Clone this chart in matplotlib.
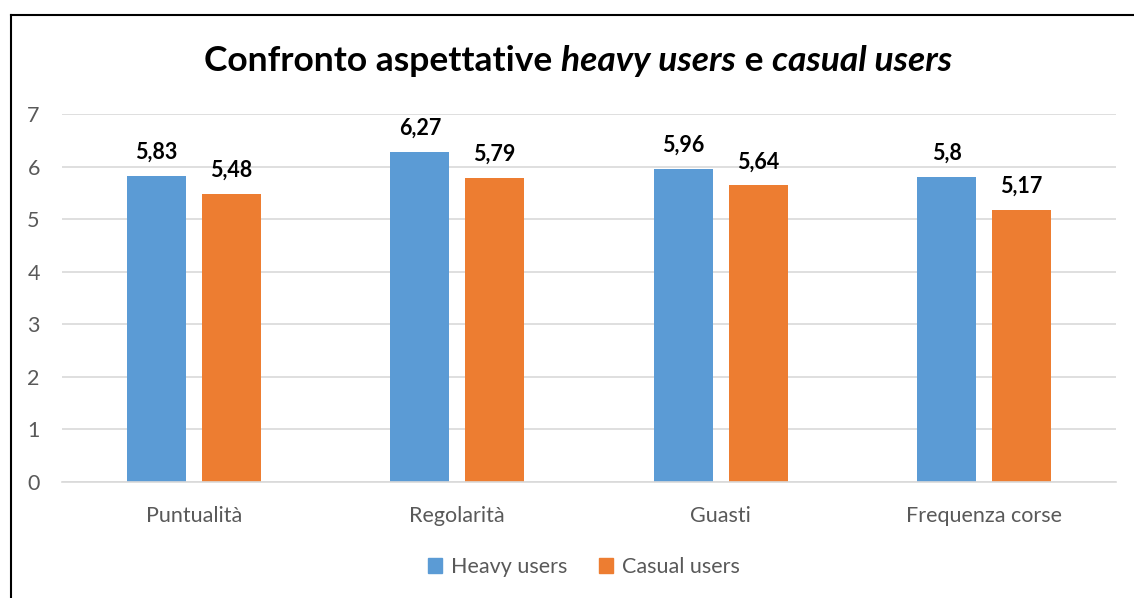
import matplotlib.pyplot as plt
from matplotlib.lines import Line2D
from matplotlib.patches import Patch
import numpy as np

categories = ['Puntualità', 'Regolarità', 'Guasti', 'Frequenza corse']
heavy_users = [5.83, 6.27, 5.96, 5.8]
casual_users = [5.48, 5.79, 5.64, 5.17]
series_names = ['Heavy users', 'Casual users']
title_parts = [('Confronto aspettative ', 'normal'), ('heavy users', 'italic'),
               (' e ', 'normal'), ('casual users', 'italic')]

BLUE = '#5B9BD5'
ORANGE = '#ED7D31'
GREY = '#595959'
FONT = ['Lato', 'DejaVu Sans']

plt.rcParams['font.family'] = FONT

fig = plt.figure(figsize=(11.34, 5.98), dpi=100, facecolor='white')
W, H = 1134, 598
ax = fig.add_axes([62 / W, 1 - 482 / H, (1116 - 62) / W, (482 - 114) / H])

x = np.arange(len(categories))
width = 0.224
offset = 0.142
b1 = ax.bar(x - offset, heavy_users, width, color=BLUE)
b2 = ax.bar(x + offset, casual_users, width, color=ORANGE)

def fmt(v):
    return ('%g' % v).replace('.', ',')

for bars, vals in ((b1, heavy_users), (b2, casual_users)):
    for rect, v in zip(bars, vals):
        ax.annotate(fmt(v), (rect.get_x() + rect.get_width() / 2, v),
                    xytext=(0, 9.5), textcoords='offset points',
                    ha='center', va='bottom', fontsize=15.5,
                    fontweight='bold', color='black')

ax.set_xlim(-0.5, len(categories) - 0.5)
ax.set_ylim(0, 7)
ax.set_yticks(range(8))
ax.yaxis.grid(True, color='#D9D9D9', linewidth=1.2)
ax.set_axisbelow(True)
for side in ('top', 'right', 'left'):
    ax.spines[side].set_visible(False)
ax.spines['bottom'].set_color('#D9D9D9')
ax.spines['bottom'].set_linewidth(1.2)
ax.tick_params(axis='both', length=0, colors=GREY, labelsize=15.5)
ax.tick_params(axis='y', pad=16)
ax.tick_params(axis='x', pad=17)
ax.set_xticks(x)
ax.set_xticklabels(categories)

# legend
handles = [Patch(color=BLUE), Patch(color=ORANGE)]
leg = fig.legend(handles, series_names, loc='center', bbox_to_anchor=(584 / W, 1 - 567 / H),
                 ncol=2, frameon=False, fontsize=15.5, handlelength=0.65, handleheight=0.65,
                 handletextpad=0.4, columnspacing=1.5)
for t in leg.get_texts():
    t.set_color(GREY)

# title, assembled from upright and italic pieces
fig.canvas.draw()
renderer = fig.canvas.get_renderer()
pieces = []
for txt, style in title_parts:
    pieces.append(fig.text(0, 1 - 61 / H, txt, fontsize=25.5, fontweight='bold',
                           style=style, ha='left', va='center'))
widths = [p.get_window_extent(renderer).width for p in pieces]
xpos = (578 - sum(widths) / 2)
for p, w in zip(pieces, widths):
    p.set_x(xpos / W)
    xpos += w

# chart frame
fig.add_artist(Line2D([10.5 / W, 10.5 / W], [0, 1 - 15 / H], color='black', lw=1.5))
fig.add_artist(Line2D([10.5 / W, 1], [1 - 15 / H, 1 - 15 / H], color='black', lw=1.5))

fig.savefig('out.png', dpi=100, facecolor='white')
